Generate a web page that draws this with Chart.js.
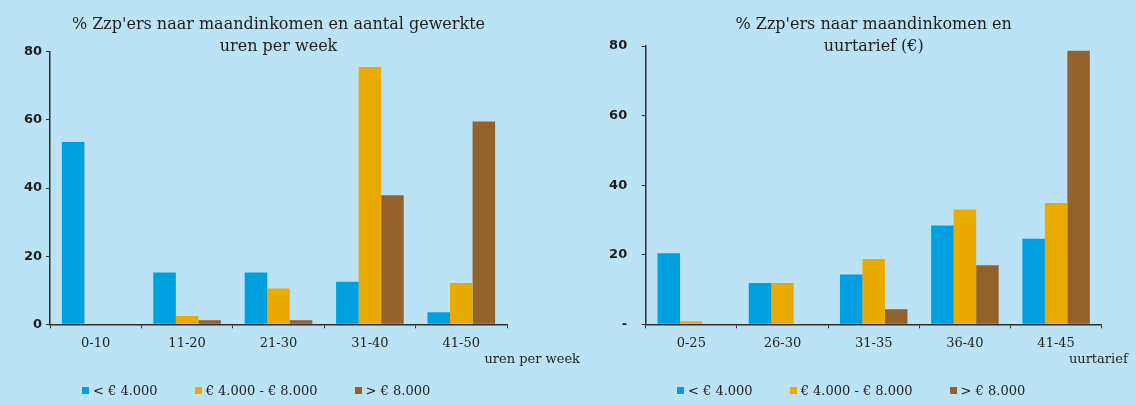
<!DOCTYPE html>
<html>
<head>
<meta charset="utf-8">
<script src="https://cdn.jsdelivr.net/npm/chart.js@4/dist/chart.umd.min.js"></script>
<style>
  html, body { margin: 0; padding: 0; }
  body { width: 1136px; height: 405px; background: #BCE3F5; position: relative; overflow: hidden; font-family: "DejaVu Serif", serif; }
  .wrap { position: absolute; top: 0; height: 405px; }
  .legend { position: absolute; top: 383px; display: flex; align-items: center; font-family: "DejaVu Serif", serif; font-size: 13px; color: #1e1e1e; white-space: nowrap; }
  .legend .item { display: flex; align-items: center; margin-right: 37px; }
  .legend .box { width: 7px; height: 7px; margin-right: 4px; }
</style>
</head>
<body>
<div class="wrap" style="left:0;width:580px"><canvas id="left"></canvas></div>
<div class="wrap" style="left:580px;width:556px"><canvas id="right"></canvas></div>
<div class="legend" id="legendLeft" style="left:82px"></div>
<div class="legend" id="legendRight" style="left:677px"></div>
<script>
// ---- data ----
const leftTitle = ["% Zzp'ers naar maandinkomen en aantal gewerkte", "uren per week"];
const rightTitle = ["% Zzp'ers naar maandinkomen en", "uurtarief (€)"];
const leftCategories = ['0-10', '11-20', '21-30', '31-40', '41-50'];
const rightCategories = ['0-25', '26-30', '31-35', '36-40', '41-45'];
const leftAxisTitle = 'uren per week';
const rightAxisTitle = 'uurtarief';
const seriesNames = ['< € 4.000', '€ 4.000 - € 8.000', '> € 8.000'];
const leftLow  = [53.5, 15.2, 15.2, 12.5, 3.5];
const leftMid  = [0, 2.4, 10.5, 75.5, 12.1];
const leftHigh = [0, 1.2, 1.2, 37.9, 59.5];
const rightLow  = [20.4, 11.9, 14.3, 28.4, 24.6];
const rightMid  = [0.9, 11.9, 18.8, 33.0, 34.9];
const rightHigh = [0, 0, 4.3, 17.0, 78.6];
const yTickValues = [0, 20, 40, 60, 80];
const leftYTickLabels = ['0', '20', '40', '60', '80'];
const rightYTickLabels = ['-', '20', '40', '60', '80'];

const colors = ['#009FE0', '#E9AB00', '#93612C'];
const AXIS = '#2f2f2f';

function datasets(low, mid, high) {
  return [low, mid, high].map((d, i) => ({
    label: seriesNames[i],
    data: d,
    backgroundColor: colors[i],
    borderWidth: 0,
    categoryPercentage: 0.74,
    barPercentage: 1.0
  }));
}

function notePlugin(text, offset) {
  return {
    id: 'axisNote',
    afterDraw(chart) {
      const ctx = chart.ctx;
      const x = chart.scales.x;
      ctx.save();
      ctx.font = '13px "DejaVu Serif"';
      ctx.fillStyle = '#1e1e1e';
      ctx.textAlign = 'right';
      ctx.textBaseline = 'middle';
      ctx.fillText(text, chart.chartArea.right + offset, x.top + 35);
      ctx.restore();
    }
  };
}

function makeChart(id, cats, ds, title, tickLabels, yWidth, padRight, titleBottom, yPad, note, noteOffset) {
  return new Chart(document.getElementById(id), {
    type: 'bar',
    data: { labels: cats, datasets: ds },
    options: {
      responsive: true,
      maintainAspectRatio: false,
      animation: false,
      layout: { padding: { left: 0, right: padRight, top: 0, bottom: 40.7 } },
      plugins: {
        legend: { display: false },
        tooltip: { enabled: false },
        title: {
          display: true,
          text: title,
          fullSize: false,
          color: '#1e1e1e',
          font: { family: '"DejaVu Serif"', size: 16, weight: 'normal', lineHeight: 1.375 },
          padding: { top: 13.5, bottom: titleBottom - 1.5 }
        }
      },
      scales: {
        x: {
          offset: true,
          grid: { display: true, drawOnChartArea: false, drawTicks: true, tickLength: 4, color: AXIS, offset: true },
          border: { display: true, color: AXIS, width: 1.5 },
          ticks: { color: '#1e1e1e', padding: 8, font: { family: '"DejaVu Serif"', size: 13 } },
          afterFit(s) { s.height = 40; }
        },
        y: {
          min: 0, max: 80,
          afterBuildTicks(s) { s.ticks = yTickValues.map(v => ({ value: v })); },
          grid: { display: true, drawOnChartArea: false, drawTicks: true, tickLength: 4, color: AXIS },
          border: { display: true, color: AXIS, width: 1.5 },
          ticks: {
            color: '#1e1e1e', padding: yPad,
            font: { family: '"DejaVu Sans"', size: 13, weight: 'bold' },
            callback: (v) => tickLabels[yTickValues.indexOf(v)]
          },
          afterFit(s) { s.width = yWidth; }
        }
      }
    },
    plugins: [notePlugin(note, noteOffset)]
  });
}

const leftChart = makeChart('left', leftCategories, datasets(leftLow, leftMid, leftHigh), leftTitle,
  leftYTickLabels, 50, 73, -4.3, 4, leftAxisTitle, 73);
const rightChart = makeChart('right', rightCategories, datasets(rightLow, rightMid, rightHigh), rightTitle,
  rightYTickLabels, 65.7, 34.3, -10, 14.5, rightAxisTitle, 26);

function buildLegend(chart, el) {
  const items = chart.options.plugins.legend.labels.generateLabels(chart);
  items.forEach(it => {
    const d = document.createElement('div');
    d.className = 'item';
    const b = document.createElement('span');
    b.className = 'box';
    b.style.background = it.fillStyle;
    const t = document.createElement('span');
    t.textContent = it.text;
    d.appendChild(b); d.appendChild(t);
    el.appendChild(d);
  });
}
buildLegend(leftChart, document.getElementById('legendLeft'));
buildLegend(rightChart, document.getElementById('legendRight'));
</script>
</body>
</html>
